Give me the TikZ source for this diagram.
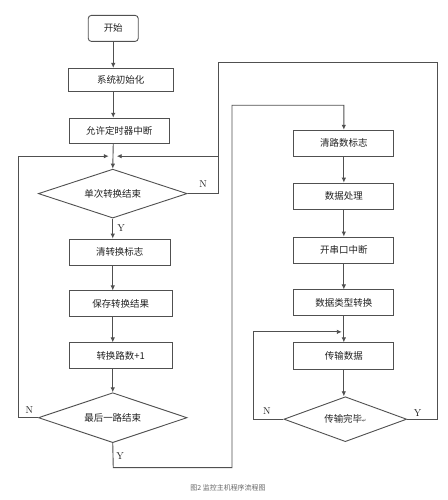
\documentclass[tikz,border=0pt]{standalone}
\usepackage{fontspec}
\newfontfamily\cjk{Noto Sans CJK SC}
\newfontfamily\dvs{DejaVu Sans}
\usetikzlibrary{arrows.meta,shapes.geometric}
\definecolor{linec}{HTML}{505050}
\definecolor{txtc}{HTML}{222222}
\begin{document}
\begin{tikzpicture}[x=1pt,y=-1pt,
  every path/.style={draw=linec, line width=0.9pt},
  arr/.style={-{Latex[length=5pt,width=4.5pt]}},
  box/.style={draw=linec, line width=0.9pt, rectangle, inner sep=0pt, minimum height=26pt, text=txtc, font=\cjk\fontsize{9.5}{11}\selectfont},
  startbox/.style={box, rounded corners=3pt},
  dec/.style={draw=linec, line width=0.9pt, diamond, aspect=3, inner sep=0pt, text=txtc, font=\cjk\fontsize{9.5}{11}\selectfont},
  lab/.style={font=\fontsize{10}{11}\selectfont, text=txtc, inner sep=0pt}
]
\useasboundingbox (0,0) rectangle (447,500);
\fill[white] (0,0) rectangle (447,500);

% left column
\node[startbox, minimum width=50pt] (start) at (113,28) {开始};
\node[box, minimum width=105pt, minimum height=23pt] (init) at (120.5,79.5) {系统初始化};
\node[box, minimum width=100pt, minimum height=25pt] (timer) at (119,130.5) {允许定时器中断};
\node[dec, minimum width=149pt, minimum height=49pt] (d1) at (112.5,193.5) {单次转换结束};
\node[box, minimum width=101pt] (clr) at (119.5,252) {清转换标志};
\node[box, minimum width=103pt] (save) at (120.5,304) {保存转换结果};
\node[box, minimum width=103pt] (inc) at (120.5,356) {转换路数+1};
\node[dec, minimum width=149pt, minimum height=50pt] (d2) at (112.5,418) {最后一路结束};

% right column
\node[box, minimum width=100pt] (r1) at (344,143) {清路数标志};
\node[box, minimum width=100pt] (r2) at (344,196) {数据处理};
\node[box, minimum width=100pt] (r3) at (344,250) {开串口中断};
\node[box, minimum width=100pt] (r4) at (344,303) {数据类型转换};
\node[box, minimum width=100pt, minimum height=27pt] (r5) at (344,356.5) {传输数据};
\node[dec, minimum width=123pt, minimum height=45pt] (d3) at (345.5,419.5) {传输完毕{\dvs\fontsize{5}{6}\selectfont ↵}};

% coordinates
\coordinate (j1) at (113,156);
\coordinate (jl) at (108.5,156);
\coordinate (jr) at (116.5,156);
\coordinate (la) at (18,418);
\coordinate (lb) at (18,156);
\coordinate (na) at (218,193.5);
\coordinate (nb) at (218,156);
\coordinate (ta) at (218,62);
\coordinate (tb) at (438,62);
\coordinate (tc) at (438,419.5);
\coordinate (ya) at (113,468);
\coordinate (yb) at (232,468);
\coordinate (yc) at (232,105);
\coordinate (yd) at (344,105);
\coordinate (ja) at (253,419.5);
\coordinate (jb) at (253,332);
\coordinate (jc) at (342,332);

% left connectors
\draw[arr] (start.south) -- (start.south |- init.north);
\draw[arr] (start.south |- init.south) -- (start.south |- timer.north);
\draw[arr] (start.south |- timer.south) -- (d1.north);
\draw[arr] (d1.south) -- (d1.south |- clr.north);
\draw[arr] (d1.south |- clr.south) -- (d1.south |- save.north);
\draw[arr] (d1.south |- save.south) -- (d1.south |- inc.north);
\draw[arr] (d1.south |- inc.south) -- (d2.north);
\draw[arr] (d2.west) -- (la) -- (lb) -- (jl);
\draw (d1.east) -- (na) -- (nb);
\draw[arr] (d3.east) -- (tc) -- (tb) -- (ta) -- (nb) -- (jr);
\draw[arr] (d2.south) -- (ya) -- (yb) -- (yc) -- (yd) -- (r1.north);

% right connectors
\draw[arr] (r1) -- (r2);
\draw[arr] (r2) -- (r3);
\draw[arr] (r3) -- (r4);
\draw[arr] (r4) -- (r5);
\draw[arr] (d3.west) -- (ja) -- (jb) -- (jc);
\draw[arr] (r5.south) -- (r5.south |- d3.north);

% labels
\node[lab] (n1) at (203,184) {N};
\node[lab] (y1) at (121,228) {Y};
\node[lab] (n2) at (29,410) {N};
\node[lab] (y2) at (120,456) {Y};
\node[lab] (n3) at (267,411) {N};
\node[lab] (y3) at (418,413) {Y};

% caption
\node[font=\cjk\fontsize{7}{8}\selectfont, text=black!60, inner sep=0pt] (cap) at (228,488) {图2\ 监控主机程序流程图};
\end{tikzpicture}
\end{document}
